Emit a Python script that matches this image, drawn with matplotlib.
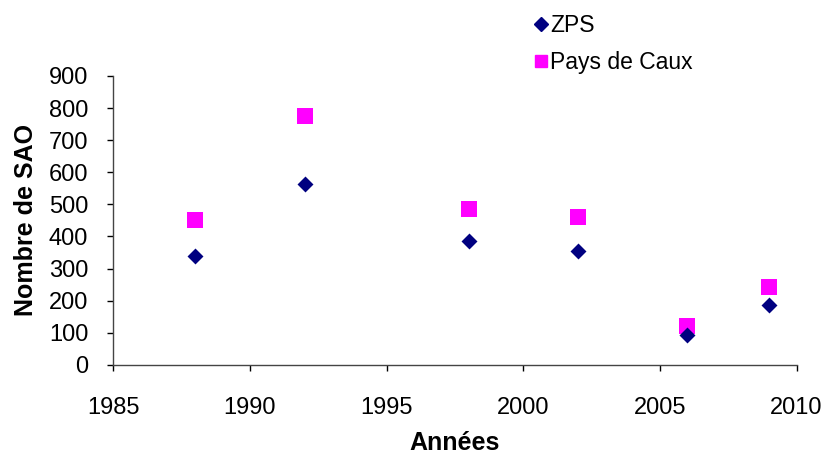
import matplotlib
matplotlib.use("Agg")
import matplotlib.pyplot as plt
from matplotlib.lines import Line2D

plt.rcParams['font.family'] = ['Liberation Sans', 'DejaVu Sans']

years = [1988, 1992, 1998, 2002, 2006, 2009]
zps = [340, 565, 385, 355, 92, 188]
pays_de_caux = [452, 775, 486, 460, 121, 244]
series_names = ["ZPS", "Pays de Caux"]
xticks = [1985, 1990, 1995, 2000, 2005, 2010]
yticks = [0, 100, 200, 300, 400, 500, 600, 700, 800, 900]

fig = plt.figure(figsize=(8.26, 4.55), dpi=100)
ax = fig.add_axes([0.137, 0.198, 0.8274, 0.635])

ax.scatter(years, zps, marker='D', s=66, color='#000080', zorder=3, linewidths=0)
ax.scatter(years, pays_de_caux, marker='s', s=132, color='#FF00FF', zorder=2, linewidths=0)

ax.set_xlim(1985, 2010)
ax.set_ylim(0, 900)
ax.set_xticks(xticks)
ax.set_yticks(yticks)
ax.tick_params(axis='both', direction='out', length=4, width=1, labelsize=17,
               colors='black')
ax.tick_params(axis='x', pad=19)
ax.tick_params(axis='y', pad=14)
for s in ['top', 'right']:
    ax.spines[s].set_visible(False)
for s in ['left', 'bottom']:
    ax.spines[s].set_linewidth(1)
    ax.spines[s].set_color('#444444')

ax.set_xlabel("Années", fontsize=18, fontweight='bold', labelpad=8.5)
ax.set_ylabel("Nombre de SAO", fontsize=18, fontweight='bold', labelpad=8)

handles = [
    Line2D([], [], marker='D', linestyle='none', color='#000080', markersize=7),
    Line2D([], [], marker='s', linestyle='none', color='#FF00FF', markersize=8),
]
fig.legend(handles, series_names, loc='upper left', bbox_to_anchor=(0.627, 1.0),
           frameon=False, fontsize=16.5, handletextpad=0.0, handlelength=0.8,
           labelspacing=0.62, borderpad=0.12)

fig.savefig("out.png", dpi=100)
